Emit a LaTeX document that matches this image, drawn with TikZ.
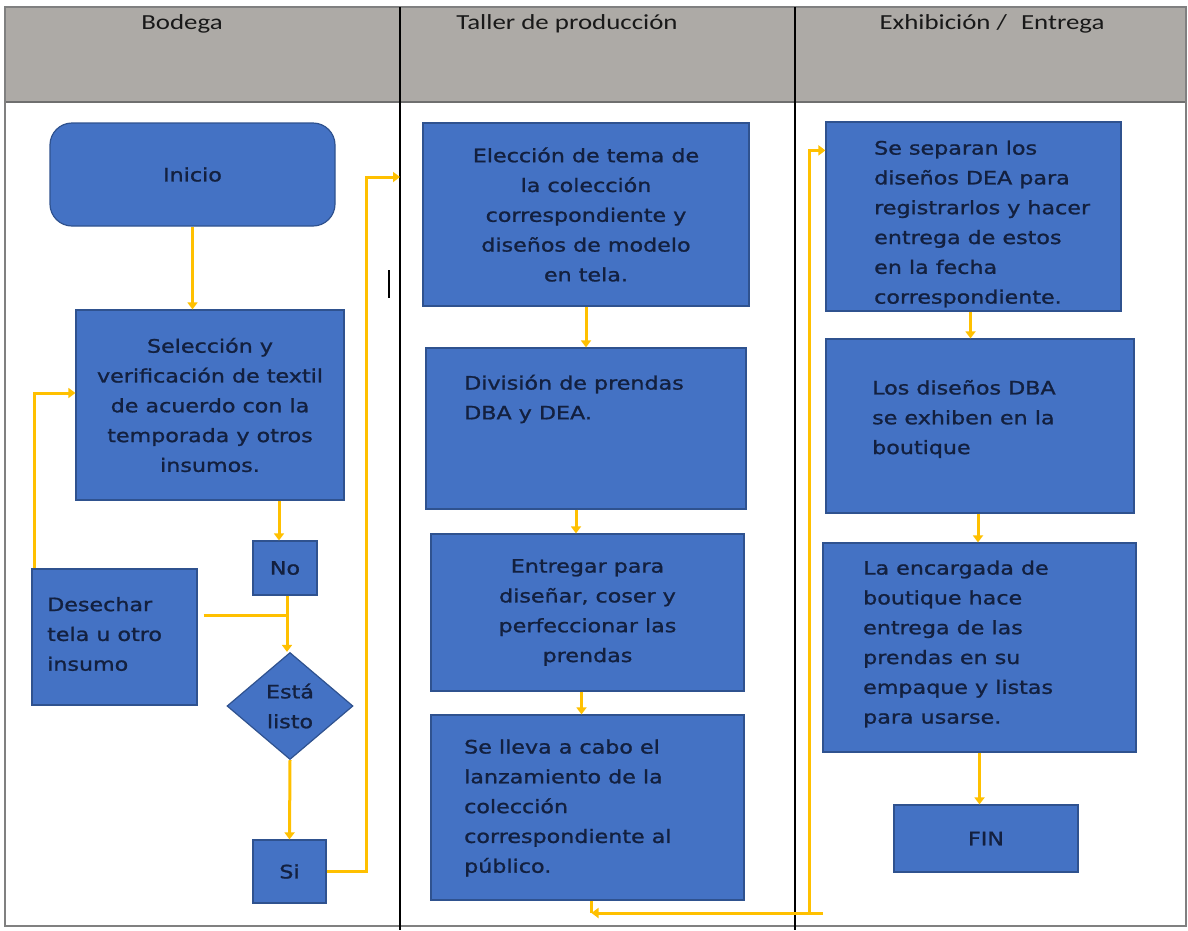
\documentclass[tikz,border=0pt]{standalone}
\usepackage{fontspec}
\setmainfont[FakeStretch=1.25]{Carlito}
\newfontfamily\boxfont[FakeStretch=1.2,FakeBold=1.2]{DejaVu Sans}
\usetikzlibrary{shapes.geometric,
                arrows.meta,
                calc}
\definecolor{boxblue}{HTML}{4472C4}
\definecolor{boxedge}{HTML}{2F528F}
\definecolor{boxtext}{HTML}{13203F}
\definecolor{flowyellow}{HTML}{FFC000}
\definecolor{headgray}{HTML}{ADAAA6}
\definecolor{headedge}{HTML}{6F6F6F}

\begin{document}
\begin{tikzpicture}[x=1pt,y=-1pt]
                % define styles
\tikzset{proc/.style={rectangle,
                      draw=boxedge,
                      line width=1.2pt,
                      fill=boxblue,
                      inner sep=0,
                      text=boxtext,
                      align=center,
                      font=\boxfont\fontsize{18.5}{29.8}\selectfont,
                      },
         txt/.style={anchor=west,
                     align=left,
                     inner sep=0,
                     text=boxtext,
                     font=\boxfont\fontsize{18.5}{29.8}\selectfont,
                     },
         flow/.style={draw=flowyellow,
                      line width=3pt,
                      -{Triangle[length=7pt,width=10pt]},
                      },
         flowline/.style={draw=flowyellow,
                          line width=3pt,
                          },
         head/.style={inner sep=0,
                      text=black!90,
                      font=\fontsize{21.5}{25}\selectfont,
                      }
}

\useasboundingbox (0,0) rectangle (1188,930);

% header band and lanes
\fill[headgray] (5,7) rectangle (1186,103);
\draw[headedge, line width=2.5pt] (5,102) -- (1186,102);
\draw[gray, line width=1.5pt] (5,7) rectangle (1186,926);
\draw[black, line width=1.5pt] (400,7) -- (400,930);
\draw[black, line width=1.5pt] (795,7) -- (795,930);

\node[head] (h-bodega)  at (182,24) {Bodega};
\node[head] (h-taller)  at (567,24) {Taller de producción};
\node[head] (h-entrega) at (992,24) {Exhibición /\hspace{14pt}Entrega};

% stray mark
\draw[black, line width=2pt] (389,270) -- (389,298);

% Bodega
\node[proc, rounded corners=22pt, minimum width=285pt, minimum height=103pt]
      (inicio) at (192.5,174.5) {Inicio};
\node[proc, minimum width=268pt, minimum height=190pt]
      (selec) at (210,405) {Selección y\\verificación de textil\\de acuerdo con la\\temporada y otros\\insumos.};
\node[proc, minimum width=64pt, minimum height=54pt]
      (no) at (285,568) {No};
\node[proc, minimum width=165pt, minimum height=136pt]
      (desechar) at (114.5,637) {};
\node[txt] (desechar-t) at (47,634) {Desechar\\tela u otro\\insumo};
\node[proc, diamond, minimum width=126pt, minimum height=107pt]
      (listo) at (290,706) {Está\\listo};
\node[proc, minimum width=73pt, minimum height=63pt]
      (si) at (289.5,871.5) {Si};

% Taller de produccion
\node[proc, minimum width=326pt, minimum height=183pt]
      (eleccion) at (586,214.5) {Elección de tema de\\la colección\\correspondiente y\\diseños de modelo\\en tela.};
\node[proc, minimum width=320pt, minimum height=161pt]
      (division) at (586,428.5) {};
\node[txt] (division-t) at (464,399) {División de prendas\\DBA y DEA.};
\node[proc, minimum width=313pt, minimum height=157pt]
      (entregar) at (587.5,612.5) {Entregar para\\diseñar, coser y\\perfeccionar las\\prendas};
\node[proc, minimum width=313pt, minimum height=185pt]
      (lleva) at (587.5,807.5) {};
\node[txt] (lleva-t) at (464,808) {Se lleva a cabo el\\lanzamiento de la\\colección\\correspondiente al\\público.};

% Exhibicion / Entrega
\node[proc, minimum width=295pt, minimum height=189pt]
      (separan) at (973.5,216.5) {};
\node[txt] (separan-t) at (874,224) {Se separan los\\diseños DEA para\\registrarlos y hacer\\entrega de estos\\en la fecha\\correspondiente.};
\node[proc, minimum width=308pt, minimum height=174pt]
      (dba) at (980,426) {};
\node[txt] (dba-t) at (872,419) {Los diseños DBA\\se exhiben en la\\boutique};
\node[proc, minimum width=313pt, minimum height=209pt]
      (encargada) at (979.5,647.5) {};
\node[txt] (encargada-t) at (863,644) {La encargada de\\boutique hace\\entrega de las\\prendas en su\\empaque y listas\\para usarse.};
\node[proc, minimum width=184pt, minimum height=67pt]
      (fin) at (986,838.5) {FIN};

% connectors
\coordinate (col2) at (400,177);
\coordinate (ret)  at (809,913);

\draw[flow] (inicio.south) -- (inicio.south |- selec.north);
\draw[flow] ([xshift=-6pt]no.north |- selec.south) -- ([xshift=-6pt]no.north);
\draw[flow] ([xshift=2pt]no.south) -- ([xshift=2pt]no.south |- listo.north);
\draw[flowline] ($(desechar.east)+(6,-22)$) coordinate (dj) -- ([xshift=2pt]dj -| no.south);
\draw[flow] ([xshift=3pt]desechar.north west) |- ($(selec.west)+(0,-12)$);
\draw[flow] (listo.south) -- (si.north);
\draw[flow] (si.east) -- ++(40,0) |- (col2);

\draw[flow] (eleccion.south) -- (division.north);
\draw[flow] ([xshift=-10pt]division.south) -- ([xshift=-10pt]division.south |- entregar.north);
\draw[flow] ([xshift=-6pt]entregar.south) -- ([xshift=-6pt]entregar.south |- lleva.north);
\draw[flowline] ([xshift=4pt]lleva.south) -- ([xshift=4pt]lleva.south |- ret);
\draw[flow] ([xshift=14pt]ret) -- ([xshift=4pt]lleva.south |- ret);
\draw[flow] (ret) |- ($(separan.north west)+(0,29)$);

\draw[flow] ([xshift=-3pt]separan.south) -- ([xshift=-3pt]separan.south |- dba.north);
\draw[flow] ([xshift=-2pt]dba.south) -- ([xshift=-2pt]dba.south |- encargada.north);
\draw[flow] (encargada.south) -- (encargada.south |- fin.north);

\end{tikzpicture}
\end{document}
